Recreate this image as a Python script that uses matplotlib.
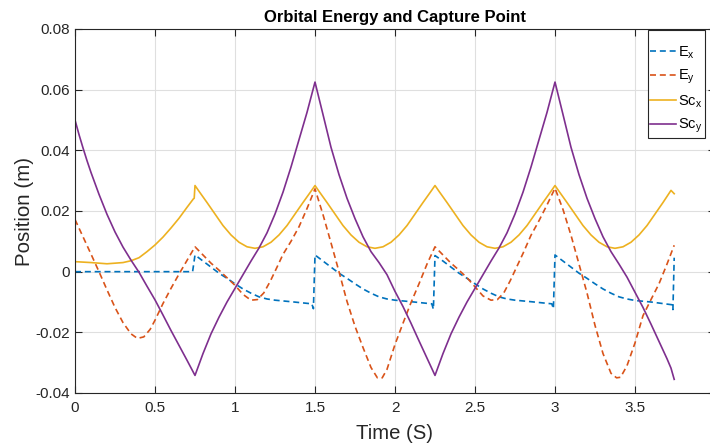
import matplotlib
matplotlib.use("Agg")
import matplotlib.pyplot as plt

plt.rcParams['font.family'] = ['Liberation Sans', 'DejaVu Sans']
plt.rcParams['mathtext.fontset'] = 'custom'
plt.rcParams['mathtext.rm'] = 'Liberation Sans'
plt.rcParams['mathtext.it'] = 'Liberation Sans'

# ---------------- data ----------------
ex_t = [0.00, 0.735, 0.75, 0.80, 0.85, 0.90, 0.95, 1.00, 1.05, 1.10, 1.15, 1.20, 1.25, 1.35, 1.48, 1.49,
        1.50, 1.55, 1.60, 1.65, 1.70, 1.75, 1.80, 1.85, 1.90, 1.95, 2.00, 2.10, 2.23, 2.24,
        2.25, 2.30, 2.35, 2.40, 2.45, 2.50, 2.55, 2.60, 2.65, 2.70, 2.75, 2.85, 2.98, 2.99,
        3.00, 3.05, 3.10, 3.15, 3.20, 3.25, 3.30, 3.35, 3.40, 3.45, 3.50, 3.60, 3.73, 3.737, 3.745]
ex_v = [0.0, 0.0, 0.0055, 0.0035, 0.0015, -0.0005, -0.0022, -0.0040, -0.0057, -0.0071, -0.0083, -0.0090,
        -0.0094, -0.0099, -0.0106, -0.0122,
        0.0055, 0.0035, 0.0015, -0.0005, -0.0022, -0.0040, -0.0057, -0.0071, -0.0083, -0.0090, -0.0094,
        -0.0099, -0.0106, -0.0124,
        0.0053, 0.0035, 0.0015, -0.0005, -0.0022, -0.0040, -0.0057, -0.0071, -0.0083, -0.0090, -0.0094,
        -0.0099, -0.0106, -0.0122,
        0.0055, 0.0035, 0.0015, -0.0005, -0.0022, -0.0040, -0.0057, -0.0071, -0.0083, -0.0090, -0.0095,
        -0.0100, -0.0109, -0.0125, 0.0046]

ey_t = [0.00, 0.05, 0.10, 0.15, 0.20, 0.25, 0.30, 0.35, 0.39, 0.43, 0.47, 0.50, 0.55, 0.60, 0.65, 0.70,
        0.75, 0.80, 0.85, 0.90, 0.95, 1.00, 1.05, 1.10, 1.14, 1.18, 1.22, 1.26, 1.30, 1.35, 1.40, 1.45,
        1.50, 1.55, 1.60, 1.65, 1.70, 1.75, 1.80, 1.85, 1.89, 1.92, 1.95, 2.00, 2.05, 2.10, 2.15, 2.20,
        2.25, 2.30, 2.35, 2.40, 2.45, 2.50, 2.55, 2.60, 2.64, 2.68, 2.72, 2.76, 2.80, 2.85, 2.90, 2.95,
        3.00, 3.05, 3.10, 3.15, 3.20, 3.25, 3.30, 3.35, 3.385, 3.41, 3.45, 3.50, 3.55, 3.60, 3.65, 3.70,
        3.745]
ey_v = [0.0172, 0.0115, 0.0058, 0.0000, -0.0060, -0.0118, -0.0168, -0.0205, -0.0220, -0.0215, -0.0190,
        -0.0160, -0.0105, -0.0055, -0.0008, 0.0037,
        0.0082, 0.0055, 0.0028, 0.0005, -0.0020, -0.0045, -0.0075, -0.0094, -0.0092, -0.0070, -0.0032,
        0.0012, 0.0057, 0.0100, 0.0148, 0.0208,
        0.0273, 0.0188, 0.0095, 0.0000, -0.0098, -0.0180, -0.0250, -0.0316, -0.0350, -0.0350, -0.0322,
        -0.0240, -0.0170, -0.0102, -0.0040, 0.0025,
        0.0082, 0.0055, 0.0028, 0.0005, -0.0020, -0.0050, -0.0080, -0.0094, -0.0092, -0.0070, -0.0030,
        0.0015, 0.0060, 0.0120, 0.0168, 0.0220,
        0.0275, 0.0205, 0.0120, 0.0025, -0.0070, -0.0177, -0.0270, -0.0335, -0.0350, -0.0348, -0.0310,
        -0.0235, -0.0145, -0.0092, -0.0040, 0.0025,
        0.0087]

scx_t = [0.00, 0.10, 0.20, 0.30, 0.35, 0.40, 0.45, 0.50, 0.55, 0.60, 0.65, 0.70, 0.74, 0.745,
         0.75, 0.775, 0.825, 0.875, 0.925, 0.975, 1.025, 1.075, 1.125, 1.175, 1.225, 1.275, 1.325,
         1.375, 1.425, 1.475,
         1.50, 1.525, 1.575, 1.625, 1.675, 1.725, 1.775, 1.825, 1.875, 1.925, 1.975, 2.025, 2.075,
         2.125, 2.175, 2.225,
         2.25, 2.275, 2.325, 2.375, 2.425, 2.475, 2.525, 2.575, 2.625, 2.675, 2.725, 2.775, 2.825,
         2.875, 2.925, 2.975,
         3.00, 3.025, 3.075, 3.125, 3.175, 3.225, 3.275, 3.325, 3.375, 3.425, 3.475, 3.525, 3.575,
         3.625, 3.675, 3.725, 3.745]
scx_v = [0.0033, 0.0030, 0.0026, 0.0030, 0.0036, 0.0046, 0.0066, 0.0088, 0.0114, 0.0144, 0.0176,
         0.0212, 0.0240, 0.0242,
         0.0284, 0.0265, 0.0228, 0.0190, 0.0152, 0.0121, 0.0097, 0.0082, 0.0077, 0.0082, 0.0097,
         0.0121, 0.0152, 0.0190, 0.0228, 0.0265,
         0.0284, 0.0265, 0.0228, 0.0190, 0.0152, 0.0121, 0.0097, 0.0082, 0.0077, 0.0082, 0.0097,
         0.0121, 0.0152, 0.0190, 0.0228, 0.0265,
         0.0284, 0.0265, 0.0228, 0.0190, 0.0152, 0.0121, 0.0097, 0.0082, 0.0077, 0.0082, 0.0097,
         0.0121, 0.0152, 0.0190, 0.0228, 0.0265,
         0.0284, 0.0265, 0.0228, 0.0190, 0.0152, 0.0121, 0.0097, 0.0082, 0.0077, 0.0082, 0.0097,
         0.0121, 0.0152, 0.0190, 0.0228, 0.0268, 0.0257]

scy_t = [0.00, 0.025, 0.05, 0.075, 0.10, 0.15, 0.20, 0.25, 0.30, 0.35, 0.40, 0.45, 0.50, 0.55, 0.60,
         0.65, 0.70,
         0.75, 0.80, 0.85, 0.90, 0.95, 1.00, 1.05, 1.10, 1.15, 1.20, 1.25, 1.30, 1.35, 1.40, 1.45,
         1.50, 1.55, 1.60, 1.65, 1.70, 1.75, 1.80, 1.85, 1.90, 1.95, 2.00, 2.05, 2.10, 2.15, 2.20,
         2.25, 2.30, 2.35, 2.40, 2.45, 2.50, 2.55, 2.60, 2.65, 2.70, 2.75, 2.80, 2.85, 2.90, 2.95,
         3.00, 3.05, 3.10, 3.15, 3.20, 3.25, 3.30, 3.35, 3.40, 3.45, 3.50, 3.55, 3.60, 3.65, 3.70,
         3.725, 3.745]
scy_v = [0.0500, 0.0452, 0.0408, 0.0366, 0.0327, 0.0255, 0.0189, 0.0131, 0.0081, 0.0038, -0.0002,
         -0.0048, -0.0093, -0.0143, -0.0194, -0.0243, -0.0292,
         -0.0342, -0.0270, -0.0205, -0.0150, -0.0100, -0.0055, -0.0010, 0.0035, 0.0078, 0.0128,
         0.0190, 0.0262, 0.0345, 0.0435, 0.0525,
         0.0625, 0.0518, 0.0410, 0.0320, 0.0242, 0.0175, 0.0115, 0.0066, 0.0030, -0.0010, -0.0065,
         -0.0115, -0.0170, -0.0228, -0.0285,
         -0.0342, -0.0270, -0.0205, -0.0150, -0.0100, -0.0055, -0.0010, 0.0035, 0.0078, 0.0128,
         0.0190, 0.0262, 0.0345, 0.0435, 0.0525,
         0.0625, 0.0518, 0.0410, 0.0320, 0.0242, 0.0175, 0.0115, 0.0066, 0.0025, -0.0018, -0.0068,
         -0.0118, -0.0173, -0.0230, -0.0287, -0.0318, -0.0355]

labels = ['E$_{\\rm x}$', 'E$_{\\rm y}$', 'Sc$_{\\rm x}$', 'Sc$_{\\rm y}$']
colors = ['#0072BD', '#D95319', '#EDB120', '#7E2F8E']

xticks = [0, 0.5, 1, 1.5, 2, 2.5, 3, 3.5, 4]
xticklabels = ['0', '0.5', '1', '1.5', '2', '2.5', '3', '3.5', '4']
yticks = [-0.04, -0.02, 0, 0.02, 0.04, 0.06, 0.08]
yticklabels = ['-0.04', '-0.02', '0', '0.02', '0.04', '0.06', '0.08']

# ---------------- figure ----------------
fig = plt.figure(figsize=(7.10, 4.45), dpi=100)
ax = fig.add_axes([75/710, 52/445, 640/710, 364/445])

lw = 1.2
dash = (0, (3.6, 2.3))
ax.plot(ex_t, ex_v, color=colors[0], lw=lw, ls=dash, label=labels[0])
ax.plot(ey_t, ey_v, color=colors[1], lw=lw, ls=dash, label=labels[1])
ax.plot(scx_t, scx_v, color=colors[2], lw=lw, label=labels[2])
ax.plot(scy_t, scy_v, color=colors[3], lw=lw, label=labels[3])

ax.set_xlim(0, 4)
ax.set_ylim(-0.04, 0.08)
ax.set_xticks(xticks)
ax.set_xticklabels(xticklabels)
ax.set_yticks(yticks)
ax.set_yticklabels(yticklabels)

ax.grid(True, color='#dfdfdf', lw=0.8)
ax.set_axisbelow(True)
for s in ax.spines.values():
    s.set_color('#262626')
    s.set_linewidth(0.8)
ax.tick_params(direction='in', length=5, width=0.8, colors='#262626',
               labelsize=11, top=True, right=True)
ax.tick_params(axis='x', pad=6)
ax.tick_params(axis='y', pad=3.5)

ax.set_title('Orbital Energy and Capture Point', fontsize=12, fontweight='bold', pad=5)
ax.set_xlabel('Time (S)', fontsize=14.6, color='#262626', labelpad=6)
ax.set_ylabel('Position (m)', fontsize=14.8, color='#262626', labelpad=1)

leg = ax.legend(loc='upper right', bbox_to_anchor=((705 - 75) / 640, 1 - 1/364), fontsize=10.5,
                frameon=True, fancybox=False, edgecolor='#262626', handlelength=1.75,
                handletextpad=0.12, borderpad=0.2, labelspacing=0.5, borderaxespad=0,
                framealpha=1, title=' ', title_fontsize=2.5)
leg.get_frame().set_linewidth(0.8)

fig.savefig('out.png', dpi=100)
